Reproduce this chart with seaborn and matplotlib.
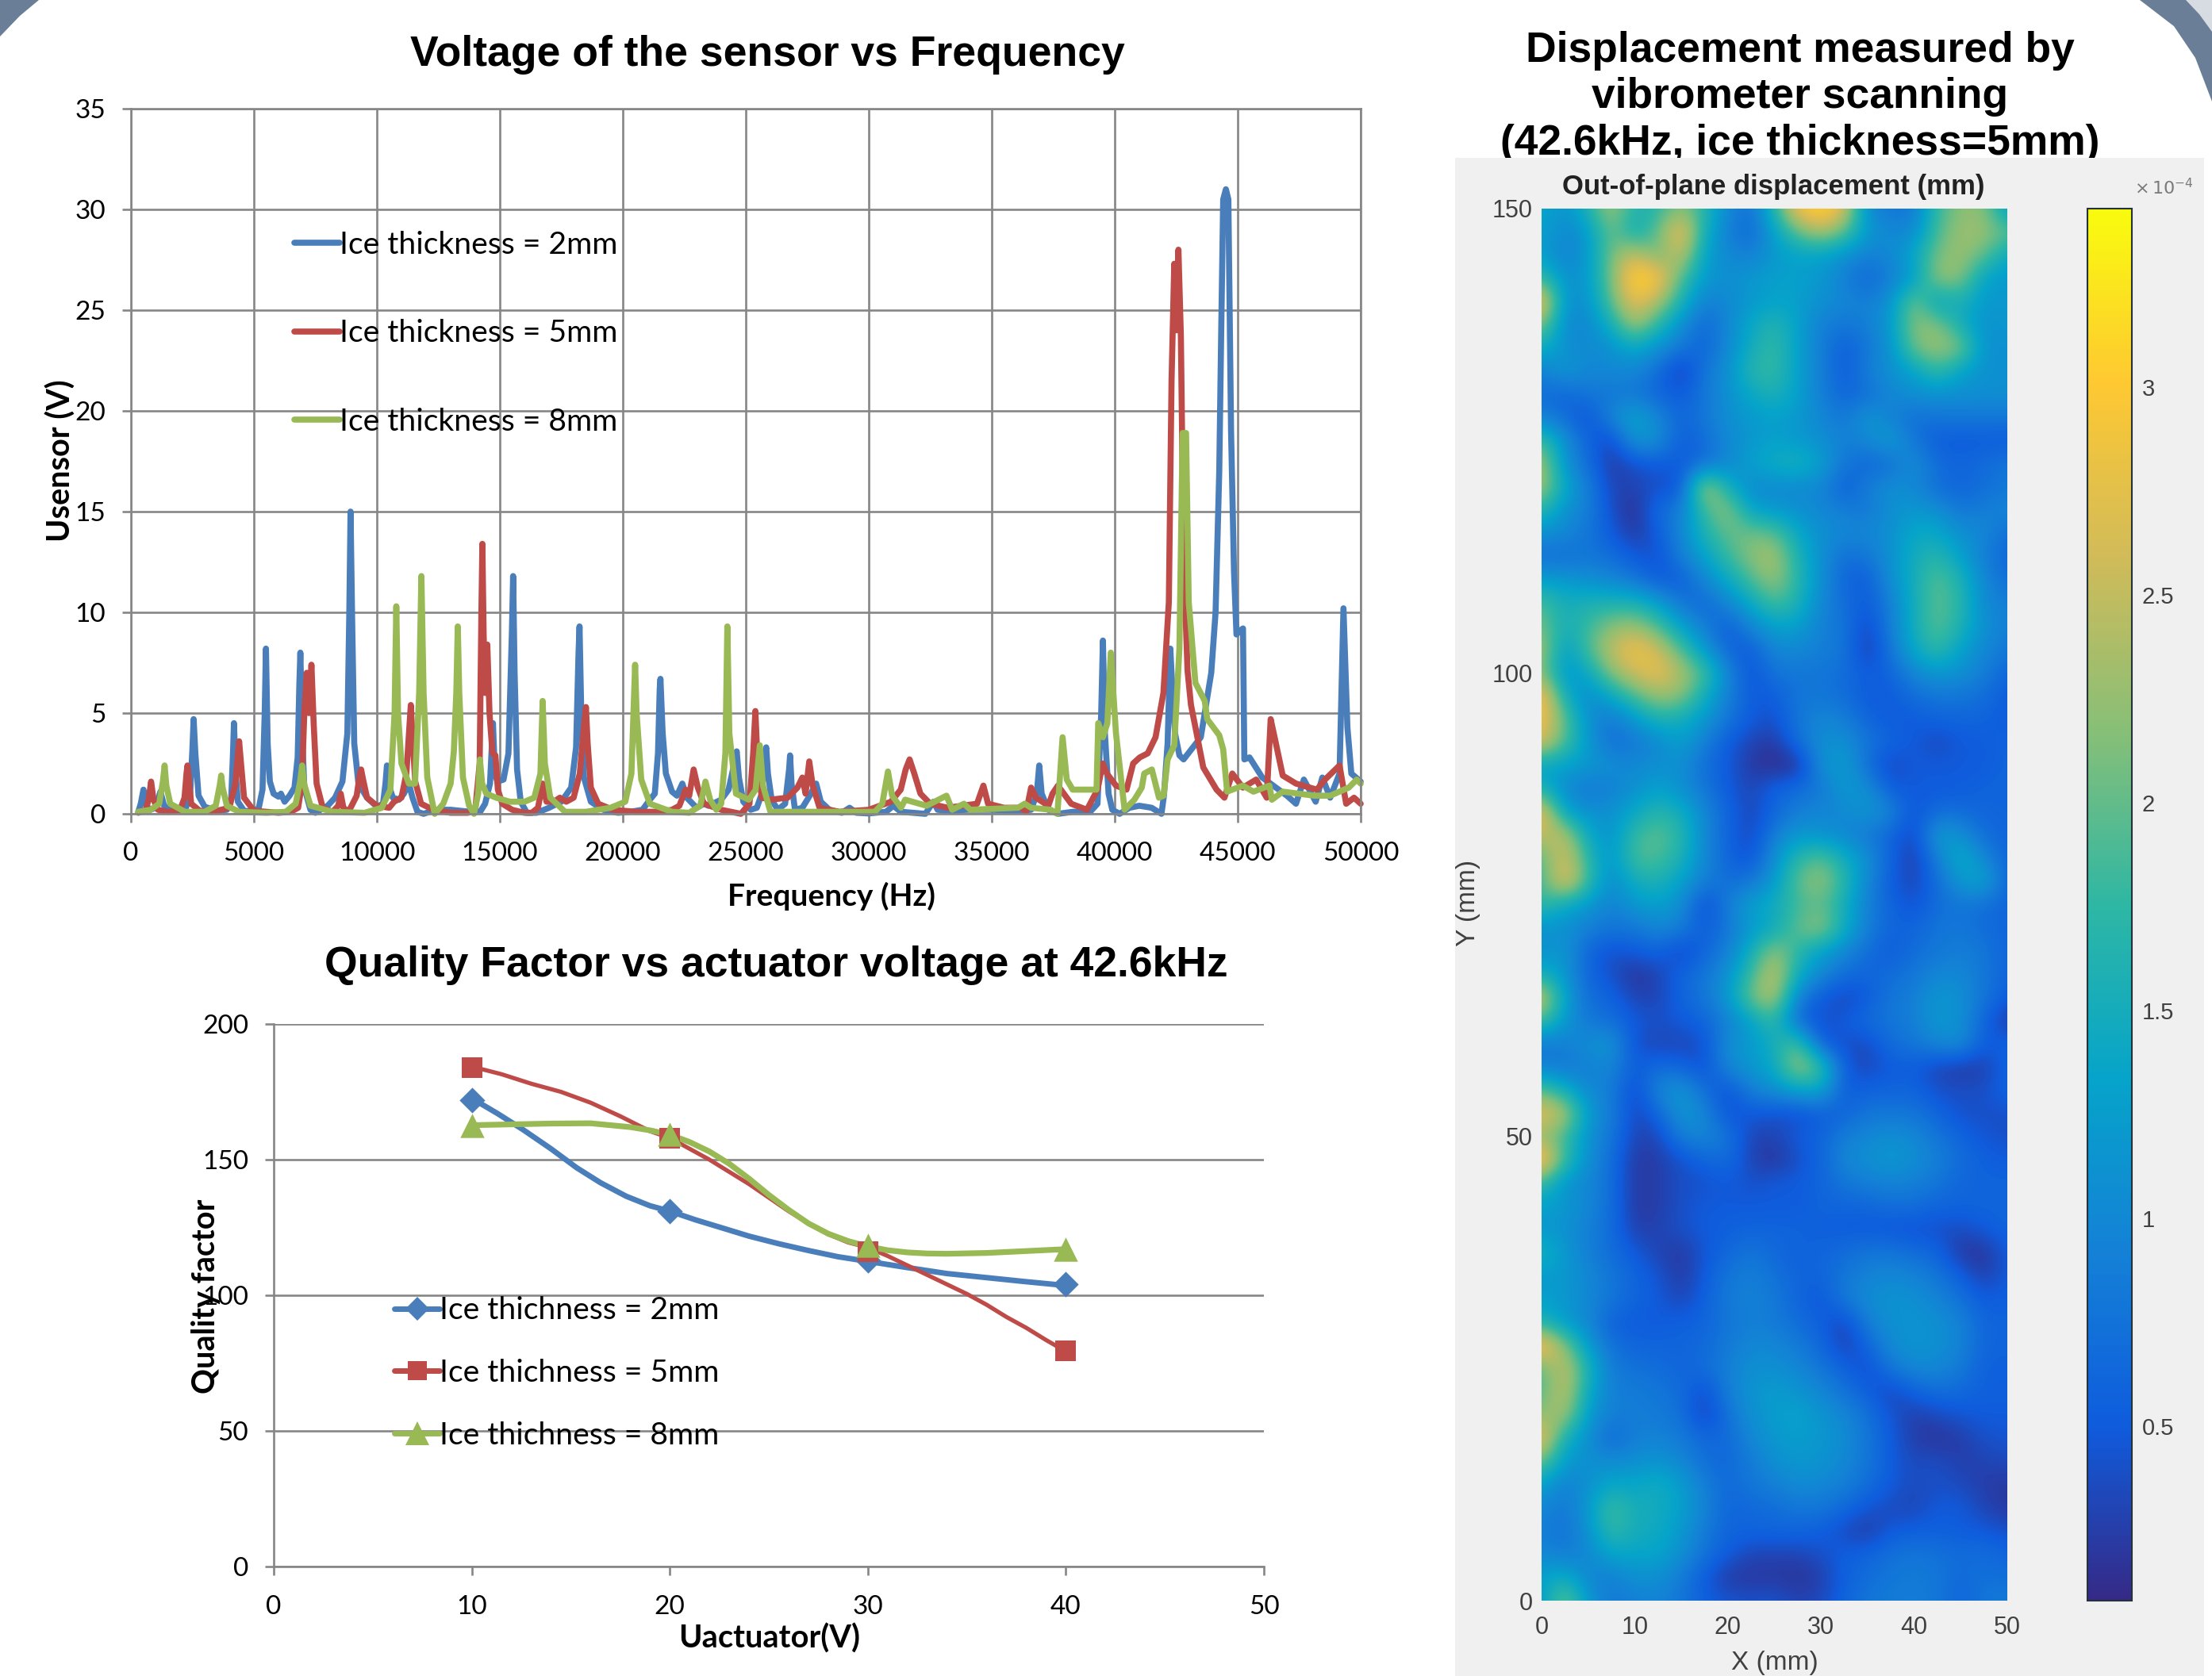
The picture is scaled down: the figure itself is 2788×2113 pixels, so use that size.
import numpy as np
import seaborn as sns
import matplotlib.pyplot as plt
from matplotlib.lines import Line2D
from matplotlib.patches import Polygon, Rectangle

# ==========================
# DATA - sensor voltage vs frequency
# ==========================

freq_2mm = [300, 400, 510, 620, 800, 1000, 1200, 1350, 1700, 2200, 2400, 2500, 2550, 2620, 2750, 3000, 3500, 3900,
            4080, 4150, 4190, 4260, 4350, 4600, 5000, 5200, 5350, 5440, 5490, 5560, 5650, 5800, 6000, 6100, 6250,
            6450, 6650, 6780, 6850, 6890, 6960, 7050, 7300, 7500, 8000, 8300, 8600, 8800, 8880, 8930, 8990, 9080,
            9250, 9600, 10000, 10250, 10350, 10410, 10490, 10650, 10900, 11100, 11300, 11450, 11650, 11900, 12400,
            13000, 13800, 14200, 14400, 14600, 14720, 14800, 14900, 15150, 15350, 15490, 15540, 15600, 15700, 15850,
            16100, 16500, 17000, 17500, 17900, 18100, 18200, 18240, 18310, 18420, 18700, 19200, 19800, 20300, 20800,
            21100, 21300, 21430, 21500, 21530, 21620, 21750, 22000, 22200, 22420, 22600, 23000, 23300, 23480, 24000,
            24300, 24550, 24630, 24720, 24900, 25200, 25450, 25650, 25780, 25830, 25900, 26050, 26300, 26600, 26760,
            26800, 26860, 27000, 27300, 27600, 27860, 28050, 28400, 28900, 29220, 29500, 30000, 30700, 31000, 31300,
            31800, 32300, 32630, 32800, 33300, 34000, 35000, 36000, 36600, 36830, 36930, 37030, 37300, 37700, 38300,
            39000, 39300, 39450, 39520, 39600, 39750, 39900, 40200, 40600, 41000, 41500, 41900, 42000, 42150, 42260,
            42350, 42450, 42630, 42800, 43500, 43925, 44100, 44250, 44330, 44410, 44520, 44620, 44730, 44850, 44950,
            45100, 45215, 45270, 45480, 46000, 47000, 47370, 47690, 48170, 48440, 48760, 49140, 49300, 49460, 49620,
            50000]
volt_2mm = [0.1, 0.5, 1.2, 0.4, 0.2, 0.3, 1.1, 0.4, 0.15, 0.2, 0.8, 3.2, 4.7, 3, 0.9, 0.35, 0.15, 0.2,
            0.8, 3, 4.5, 2, 0.6, 0.15, 0.1, 0.3, 1.2, 5, 8.2, 3.5, 1.6, 1.0, 0.85, 1.0, 0.6,
            0.9, 1.3, 2.8, 6.5, 8, 4, 1.3, 0.2, 0.05, 0.4, 0.8, 1.6, 4, 10, 15, 10, 3.5,
            1.5, 0.8, 0.35, 0.5, 1.5, 2.4, 1.4, 0.8, 0.7, 1, 1.5, 0.8, 0.1, 0, 0.2,
            0.2, 0.1, 0.1, 0.5, 1.5, 4.5, 2, 1.6, 1.7, 3, 9, 11.8, 7, 2.2, 0.6,
            0.05, 0.05, 0.3, 0.6, 1.3, 3.3, 8, 9.3, 5, 1.8, 0.6, 0.2, 0.05, 0.1, 0.2,
            0.7, 1.0, 3, 6.2, 6.7, 4, 2, 1.1, 0.9, 1.5, 0.8, 0.3, 0.5, 0.4, 0.7,
            1.2, 2.6, 3.1, 1.8, 0.6, 0.2, 0.3, 1, 3, 3.3, 2, 0.7, 0.2, 0.5, 2.2,
            2.9, 1.5, 0.2, 0.3, 0.9, 1.5, 0.6, 0.2, 0.05, 0.3, 0.05, 0.02, 0.1, 0.4, 0.1,
            0.05, 0, 0.6, 0.2, 0.15, 0.2, 0.2, 0.15, 0.2, 1, 2.4, 1, 0.2, 0, 0.1,
            0.1, 0.5, 5, 8.6, 4, 1, 0.2, 0, 0.3, 0.4, 0.3, 0, 0.9, 3.5, 8.2,
            6, 4, 2.9, 2.7, 3.8, 7, 10, 17, 24, 30.5, 31, 30.5, 19, 12, 8.9,
            9.1, 9.2, 2.7, 2.8, 1.8, 0.9, 0.5, 1.7, 0.6, 1.8, 0.8, 2, 10.2, 4.3, 2,
            1.6]

freq_5mm = [300, 600, 720, 820, 920, 1100, 1500, 2000, 2180, 2260, 2300, 2350, 2450, 2800, 3300, 3670, 4000, 4250,
            4350, 4400, 4470, 4600, 5000, 6000, 6500, 6800, 6950, 7050, 7150, 7240, 7340, 7430, 7550, 7800, 8200,
            8430, 8530, 8640, 8850, 9180, 9300, 9360, 9440, 9600, 10000, 10500, 10700, 11000, 11200, 11330, 11380,
            11440, 11560, 11800, 12300, 13000, 13700, 14000, 14180, 14250, 14290, 14340, 14400, 14490, 14580, 14700,
            14820, 14920, 15100, 15500, 16000, 16300, 16550, 16740, 16900, 17200, 17440, 17700, 18000, 18250, 18440,
            18500, 18570, 18700, 19000, 19600, 20500, 21500, 22000, 22300, 22550, 22700, 22880, 23050, 23300, 24000,
            24800, 25150, 25300, 25390, 25480, 25650, 26000, 26700, 27100, 27300, 27430, 27580, 27720, 28000, 28800,
            30000, 30900, 31300, 31500, 31660, 31850, 32100, 32500, 33200, 33800, 34400, 34660, 34850, 35500, 36200,
            36400, 36600, 36800, 37300, 37470, 37690, 38230, 38870, 39300, 39515, 39680, 40050, 40480, 40750, 41020,
            41340, 41660, 41980, 42200, 42310, 42420, 42500, 42590, 42690, 42800, 42960, 43100, 43280, 43600, 44140, 44460,
            44780, 45210, 45750, 46180, 46340, 46500, 46830, 47370, 48220, 48550, 49140, 49410, 49730, 50000]
volt_5mm = [0.05, 0.2, 0.7, 1.6, 0.7, 0.2, 0.1, 0.2, 0.8, 2.0, 2.4, 1.8, 0.5, 0.15, 0.1, 0.2, 0.3, 1.5,
            3.0, 3.6, 2.6, 0.8, 0.15, 0.05, 0.1, 0.3, 1.5, 5, 7.0, 5, 7.4, 4.5, 1.5, 0.3, 0.1,
            0.4, 1.0, 0.3, 0.1, 0.9, 1.9, 2.2, 1.7, 0.8, 0.4, 0.3, 0.6, 0.8, 2, 4.5, 5.4,
            4, 1.6, 0.5, 0.2, 0.05, 0.05, 0.2, 2.5, 10, 13.4, 9, 6, 8.4, 5, 3,
            2.9, 1.2, 0.5, 0.2, 0.05, 0.05, 0.3, 1.5, 0.6, 0.6, 0.8, 0.6, 0.8, 2, 4.6,
            5.3, 3.5, 1.3, 0.5, 0.2, 0.1, 0.1, 0.2, 0.4, 1.2, 0.9, 2.2, 1.3, 0.5, 0.2,
            0, 0.5, 3, 5.1, 2.5, 0.8, 0.7, 0.8, 1.3, 1.8, 1.0, 2.6, 1.4, 0.3, 0.1,
            0.2, 0.6, 1.2, 2.2, 2.7, 2.0, 1.0, 0.5, 0.3, 0.4, 0.5, 1.4, 0.5, 0.3, 0.3,
            0.1, 1.3, 0.8, 0.4, 1.0, 1.4, 0.5, 0.2, 1.2, 2.5, 2.0, 1.4, 1.2, 2.5, 2.8,
            3.0, 3.8, 6.0, 10.5, 21.5, 27.3, 24, 28, 23.7, 12.7, 7.1, 5.4, 4.3, 2.3, 1.2, 0.8,
            2.0, 1.3, 1.7, 0.8, 4.7, 3.8, 1.9, 1.5, 1.2, 1.7, 2.4, 0.5, 0.8, 0.5]

freq_8mm = [300, 800, 1150, 1300, 1370, 1440, 1600, 2200, 3000, 3450, 3610, 3670, 3730, 3900, 4400, 5500, 6300, 6700,
            6880, 6960, 7040, 7300, 8200, 9500, 10200, 10550, 10720, 10790, 10860, 11000, 11300, 11550, 11720, 11810,
            11900, 12050, 12350, 12700, 13000, 13130, 13230, 13290, 13350, 13500, 13750, 13950, 14120, 14190, 14280,
            14450, 14850, 15400, 16000, 16400, 16650, 16740, 16830, 17050, 17650, 18500, 19500, 20100, 20350, 20460,
            20500, 20560, 20750, 21100, 22000, 22700, 23150, 23360, 23550, 23800, 24000, 24170, 24250, 24330, 24600,
            25120, 25400, 25570, 25700, 26000, 28000, 30250, 30550, 30780, 30950, 31310, 31480, 32350, 33160, 33390,
            33870, 34130, 36070, 36340, 36600, 37400, 37670, 37880, 38050, 38290, 39260, 39330, 39520, 39700, 39840,
            40050, 40400, 40800, 41100, 41200, 41510, 41800, 41990, 42150, 42420, 42630, 42760, 42900, 43010, 43280,
            43660, 43760, 44250, 44410, 44570, 45210, 45640, 46290, 46390, 46830, 48110, 48760, 49515, 49840, 50000]
volt_8mm = [0.1, 0.2, 0.5, 1.6, 2.4, 1.4, 0.5, 0.1, 0.1, 0.4, 1.4, 1.9, 1.3, 0.4, 0.1, 0.05, 0.1, 0.5,
            1.6, 2.4, 1.5, 0.4, 0.1, 0.05, 0.3, 1.2, 5, 10.3, 5, 2.5, 1.5, 1.5, 6, 11.8,
            6, 1.8, 0, 0.5, 1.5, 3.1, 6, 9.3, 6, 1.8, 0.4, 0, 1, 2.7, 1.5,
            1.0, 0.8, 0.6, 0.6, 0.8, 2, 5.6, 2.5, 0.8, 0.1, 0.1, 0.3, 0.6, 2, 6,
            7.4, 5, 1.7, 0.5, 0.1, 0.05, 0.4, 1.6, 0.7, 0.2, 0.5, 3, 9.3, 4, 1.0,
            0.7, 1.2, 3.4, 1.4, 0.1, 0.1, 0.1, 0.5, 2.1, 0.9, 0.3, 0.7, 0.4, 0.9, 0.2,
            0.5, 0.2, 0.3, 0.5, 0.3, 0.2, 0, 3.8, 1.7, 1.2, 1.2, 4.5, 3.8, 4.5, 8,
            4, 0.2, 0.7, 1.3, 2, 2.2, 0.8, 0.9, 2.7, 3.4, 8.2, 18.9, 18.9, 10.5, 6.5,
            5.6, 4.7, 3.9, 3.2, 1.1, 1.4, 1.1, 1.4, 0.7, 1.1, 0.9, 0.9, 1.3, 1.7, 1.5]

thickness_labels = ["Ice thickness = 2mm", "Ice thickness = 5mm", "Ice thickness = 8mm"]

# ==========================
# DATA - quality factor
# ==========================

actuator_v = [10, 20, 30, 40]
q_2mm = [172, 131, 113, 104]
q_5mm = [184, 158, 116, 79.5]
q_8mm = [162.5, 159.5, 118.5, 117]

# the smoothed excel curves
curve_2mm_x = [10, 11.3, 12.6, 14, 15.3, 16.5, 17.8, 19, 20, 21.3, 22.7, 24, 25.5, 27, 28.5, 30, 32, 34, 36, 38, 40]
curve_2mm_y = [172.6, 167, 161, 154, 147, 141.5, 136.5, 133, 131, 127.8, 124.7, 121.8, 119, 116.5, 114.2, 112.5,
               110.2, 108, 106.5, 105, 103.6]
curve_5mm_x = [10, 11.5, 13, 14.5, 16, 17.5, 19, 20, 21, 22, 23, 24, 25, 26, 27, 28, 29, 30, 31, 32, 33, 34, 35, 36,
               37, 38, 39, 40]
curve_5mm_y = [184.3, 181.5, 178, 175, 171, 166, 160.5, 158, 154, 150, 145.5, 141, 136, 131, 126.5, 122.5, 119.5,
               117.6, 114.5, 111, 107.5, 104, 100.5, 96.5, 92, 88, 83.5, 79.3]
curve_8mm_x = [10, 12, 14, 16, 18, 19, 20, 21, 22, 23, 24, 25, 26, 27, 28, 29, 30, 31, 32, 33, 34, 36, 38, 40]
curve_8mm_y = [162.7, 163, 163.3, 163.4, 162, 160.8, 159.2, 156.5, 153, 148.5, 143, 137, 131.5, 126.5, 122.7, 120,
               118, 116.6, 115.8, 115.4, 115.3, 115.6, 116.3, 117]

quality_labels = ["Ice thichness = 2mm", "Ice thichness = 5mm", "Ice thichness = 8mm"]

# ==========================
# DATA - displacement map (x 0..50, y 150..0, every 2.5 mm), unit 1e-4 mm
# ==========================

map_x_ticks = [0, 10, 20, 30, 40, 50]
map_y_ticks = [0, 50, 100, 150]
displacement = [
    [1.4, 1.1, 1.6, 2.4, 1.6, 1.7, 2.2, 1.7, 1.0, 0.7, 1.7, 2.9, 3.2, 2.7, 1.0, 0.8, 0.8, 1.8, 2.2, 2.2, 1.2],
    [1.3, 1.0, 1.2, 2.1, 1.4, 2.0, 3.0, 1.5, 0.9, 0.6, 1.3, 2.0, 2.4, 2.0, 1.2, 1.0, 1.0, 1.9, 2.3, 2.3, 2.0],
    [1.3, 0.9, 1.2, 2.1, 2.6, 2.0, 2.6, 1.3, 1.0, 0.9, 1.2, 1.3, 1.3, 1.1, 0.9, 1.0, 1.4, 2.1, 2.3, 2.0, 1.4],
    [1.8, 1.1, 1.2, 2.1, 3.2, 3.0, 1.9, 1.2, 1.1, 1.2, 1.3, 1.3, 1.2, 0.9, 0.6, 0.9, 1.2, 2.3, 2.2, 1.3, 1.2],
    [3.0, 1.1, 1.1, 2.0, 2.8, 2.4, 1.6, 0.9, 1.0, 1.2, 1.3, 1.3, 1.1, 1.0, 0.9, 1.1, 2.2, 1.2, 1.6, 1.2, 1.2],
    [2.2, 1.0, 1.0, 1.5, 2.4, 1.7, 1.1, 0.6, 1.0, 1.4, 1.7, 1.3, 0.9, 0.8, 0.9, 1.2, 2.2, 2.2, 1.5, 1.1, 1.2],
    [1.5, 1.1, 1.0, 1.1, 1.4, 1.1, 0.8, 0.6, 1.0, 1.5, 1.8, 1.3, 0.9, 0.5, 0.8, 1.1, 2.1, 2.3, 2.2, 1.1, 1.1],
    [0.9, 1.2, 1.0, 1.0, 1.0, 0.7, 0.2, 0.8, 1.1, 1.7, 1.8, 1.3, 0.9, 0.5, 0.9, 1.1, 1.3, 1.8, 1.3, 1.1, 1.1],
    [0.7, 0.6, 0.8, 0.8, 0.8, 0.6, 0.5, 0.8, 1.1, 1.4, 1.6, 1.3, 0.9, 0.6, 0.7, 1.0, 1.1, 1.1, 1.1, 1.1, 1.1],
    [0.9, 0.7, 0.4, 1.0, 1.4, 1.0, 0.6, 0.8, 1.1, 1.2, 1.3, 1.2, 1.0, 0.8, 1.2, 0.9, 0.7, 0.8, 0.8, 0.8, 0.8],
    [1.9, 1.1, 0.6, 0.3, 1.2, 1.1, 0.5, 0.7, 1.0, 1.2, 1.3, 1.2, 1.1, 0.9, 1.0, 1.3, 0.8, 0.5, 0.5, 0.5, 0.5],
    [2.4, 1.1, 0.7, 0.2, 0.4, 0.5, 0.5, 0.7, 1.0, 1.3, 1.5, 1.6, 1.3, 0.8, 0.6, 0.7, 1.1, 0.7, 0.6, 0.7, 0.8],
    [2.4, 1.4, 0.9, 0.3, 0.3, 0.4, 0.4, 2.6, 1.5, 1.0, 1.0, 1.0, 1.0, 0.5, 0.9, 1.1, 1.0, 0.7, 0.6, 0.7, 0.8],
    [1.7, 1.1, 0.9, 0.4, 0.1, 0.7, 0.9, 1.8, 2.3, 1.3, 1.2, 1.1, 1.0, 0.9, 0.8, 1.1, 1.2, 1.1, 0.8, 0.9, 1.0],
    [1.1, 1.0, 0.8, 0.5, 0.2, 0.5, 1.0, 1.6, 2.0, 2.1, 2.0, 1.4, 1.1, 1.0, 1.0, 1.1, 1.4, 1.4, 1.1, 1.0, 0.7],
    [0.7, 0.7, 0.8, 0.7, 0.5, 0.4, 0.9, 1.3, 1.8, 2.2, 2.4, 1.6, 1.1, 0.7, 0.8, 1.1, 1.5, 1.7, 1.3, 0.9, 0.6],
    [1.3, 1.2, 1.1, 1.0, 0.8, 0.5, 0.5, 1.0, 1.4, 1.9, 2.3, 1.7, 1.1, 0.6, 0.5, 1.1, 1.5, 2.0, 1.6, 1.0, 0.7],
    [1.9, 1.5, 1.6, 1.6, 1.6, 1.3, 0.8, 0.6, 1.0, 1.4, 1.9, 1.6, 1.0, 0.7, 0.5, 0.9, 1.5, 2.0, 1.7, 1.0, 0.9],
    [2.1, 1.5, 1.8, 2.2, 2.3, 1.9, 1.3, 0.9, 0.5, 1.0, 1.3, 1.3, 0.9, 0.8, 0.3, 0.9, 1.5, 2.0, 1.6, 1.1, 0.9],
    [2.4, 1.2, 1.9, 2.5, 2.9, 2.6, 1.9, 1.2, 0.6, 0.5, 1.0, 1.0, 0.9, 0.8, 0.2, 0.8, 1.4, 1.8, 1.3, 1.0, 0.8],
    [2.2, 1.1, 1.4, 2.2, 2.6, 2.8, 2.4, 1.9, 1.0, 0.4, 0.8, 0.8, 0.8, 0.7, 0.5, 0.6, 1.0, 1.2, 1.1, 0.9, 0.6],
    [3.0, 1.5, 1.0, 1.4, 1.9, 2.3, 2.2, 1.5, 0.9, 0.5, 0.5, 0.8, 0.8, 0.7, 0.5, 0.5, 0.7, 0.8, 0.8, 0.7, 0.5],
    [2.9, 2.0, 1.1, 0.8, 1.2, 1.6, 1.5, 1.2, 0.8, 0.5, 0.4, 0.8, 1.0, 0.9, 0.6, 0.5, 0.5, 0.6, 0.6, 0.6, 0.5],
    [2.7, 1.9, 1.2, 0.7, 0.8, 1.0, 1.3, 0.9, 0.5, 0.3, 0.2, 0.7, 1.1, 1.1, 0.8, 0.6, 0.5, 0.3, 0.5, 0.5, 0.6],
    [1.3, 1.3, 1.2, 1.1, 1.0, 1.1, 1.1, 0.7, 0.5, 0.2, 0.1, 0.1, 1.1, 1.3, 0.7, 0.3, 0.5, 0.5, 0.5, 0.5, 0.6],
    [1.6, 1.0, 0.8, 0.9, 1.1, 1.3, 1.1, 0.8, 0.5, 0.3, 0.6, 0.7, 0.8, 1.2, 1.1, 0.5, 0.5, 0.5, 0.5, 0.6, 0.6],
    [2.9, 1.3, 1.1, 1.1, 1.4, 1.7, 1.5, 1.0, 0.6, 0.3, 0.6, 0.9, 1.0, 1.0, 1.2, 1.0, 0.4, 0.7, 0.7, 0.6, 0.6],
    [2.5, 2.5, 1.4, 1.1, 1.8, 2.0, 1.7, 1.0, 0.6, 0.3, 0.9, 1.2, 1.1, 1.0, 0.8, 0.6, 0.3, 1.3, 1.1, 0.7, 0.6],
    [1.9, 2.7, 1.7, 1.1, 1.9, 1.9, 1.6, 1.0, 0.6, 0.4, 1.1, 1.7, 2.0, 1.5, 1.1, 0.6, 0.2, 0.9, 1.5, 1.0, 0.6],
    [1.8, 2.9, 1.8, 1.0, 1.5, 1.6, 1.3, 0.9, 0.7, 0.8, 1.2, 2.0, 2.3, 1.7, 1.0, 0.5, 0.3, 0.7, 1.2, 1.4, 0.6],
    [1.8, 1.4, 1.2, 0.9, 1.2, 1.3, 1.1, 0.3, 0.9, 1.3, 1.5, 1.8, 2.0, 1.5, 0.9, 0.6, 0.4, 0.7, 0.8, 0.7, 0.6],
    [1.1, 1.1, 0.9, 0.8, 0.8, 1.0, 0.9, 0.5, 0.8, 1.2, 1.4, 2.0, 2.3, 1.5, 0.9, 0.6, 0.6, 0.8, 0.8, 0.7, 0.6],
    [1.1, 1.2, 0.6, 0.4, 0.5, 0.6, 0.3, 0.6, 0.9, 1.5, 2.3, 1.7, 1.3, 1.0, 0.7, 0.5, 0.7, 0.8, 0.9, 0.8, 0.6],
    [1.5, 1.2, 0.6, 0.4, 0.15, 0.3, 0.6, 0.8, 1.1, 1.8, 2.6, 1.5, 1.0, 0.7, 0.6, 0.7, 0.8, 1.0, 1.0, 0.8, 0.6],
    [2.7, 1.3, 0.7, 0.6, 0.3, 0.3, 0.6, 0.8, 1.2, 2.1, 2.5, 0.9, 0.5, 0.3, 0.5, 0.8, 0.9, 1.2, 1.1, 0.8, 0.5],
    [1.9, 1.2, 0.8, 0.7, 0.5, 0.4, 0.5, 0.6, 0.9, 1.3, 1.8, 0.6, 0.4, 0.5, 0.7, 0.8, 0.9, 1.2, 1.1, 0.6, 0.2],
    [0.8, 0.9, 1.1, 1.2, 0.4, 0.3, 0.3, 0.4, 1.1, 1.2, 1.5, 2.0, 0.5, 0.4, 0.35, 0.7, 0.8, 1.0, 1.1, 0.5, 0.6],
    [0.9, 0.8, 0.9, 1.0, 0.5, 0.7, 0.6, 0.4, 1.0, 1.2, 1.4, 2.4, 1.9, 0.5, 0.3, 0.5, 0.5, 0.3, 0.2, 0.25, 0.6],
    [2.0, 1.5, 1.0, 0.9, 0.3, 1.0, 1.2, 0.7, 0.4, 0.9, 1.1, 1.3, 1.4, 0.5, 0.6, 0.6, 0.6, 0.4, 0.4, 0.4, 0.6],
    [2.8, 2.5, 1.2, 0.9, 0.3, 0.6, 1.2, 1.0, 0.4, 0.5, 0.4, 0.4, 0.5, 0.6, 0.8, 0.8, 0.8, 0.6, 0.4, 0.4, 0.4],
    [2.2, 1.8, 1.1, 0.8, 0.3, 0.3, 0.9, 1.0, 0.8, 0.3, 0.3, 0.5, 0.6, 0.9, 1.0, 1.1, 1.0, 0.8, 0.6, 0.45, 0.4],
    [3.2, 1.8, 1.1, 0.7, 0.2, 0.25, 0.4, 0.6, 0.7, 0.3, 0.15, 0.4, 0.6, 1.0, 1.1, 1.2, 1.1, 0.9, 0.7, 0.55, 0.5],
    [1.8, 1.1, 1.0, 0.7, 0.2, 0.25, 0.4, 0.4, 0.5, 0.4, 0.5, 0.5, 0.6, 0.8, 0.9, 0.95, 0.9, 0.8, 0.6, 0.6, 0.6],
    [1.3, 1.2, 1.0, 0.7, 0.2, 0.25, 0.4, 0.5, 0.5, 0.5, 0.5, 0.5, 0.6, 0.6, 0.6, 0.7, 0.7, 0.6, 0.6, 0.6, 0.6],
    [1.2, 1.1, 0.9, 0.7, 0.25, 0.3, 0.4, 0.5, 0.55, 0.6, 0.6, 0.6, 0.55, 0.5, 0.5, 0.45, 0.4, 0.4, 0.35, 0.5, 0.6],
    [1.6, 1.2, 0.9, 0.7, 0.5, 0.3, 0.2, 0.45, 0.65, 0.8, 0.65, 0.55, 0.6, 0.7, 0.8, 0.8, 0.7, 0.6, 0.2, 0.15, 0.5],
    [1.2, 1.2, 1.0, 0.8, 0.6, 0.45, 0.2, 0.5, 0.8, 0.9, 0.75, 0.6, 0.6, 0.8, 0.95, 1.0, 0.95, 0.8, 0.55, 0.25, 0.5],
    [1.3, 1.2, 1.0, 0.8, 0.6, 0.5, 0.3, 0.55, 0.85, 0.95, 0.85, 0.6, 0.45, 0.85, 1.05, 1.15, 1.1, 0.95, 0.75, 0.5, 0.55],
    [1.6, 1.2, 1.0, 0.55, 0.5, 0.5, 0.55, 0.6, 0.8, 0.9, 0.85, 0.7, 0.55, 0.3, 0.9, 1.1, 1.15, 1.1, 0.95, 0.6, 0.6],
    [3.1, 2.2, 1.2, 0.75, 0.6, 0.6, 0.6, 0.65, 0.85, 1.0, 1.0, 0.85, 0.65, 0.25, 0.6, 1.05, 1.15, 1.1, 0.95, 0.6, 0.6],
    [1.9, 2.6, 1.6, 0.85, 0.75, 0.7, 0.6, 0.7, 0.9, 1.1, 1.1, 1.0, 0.8, 0.6, 0.35, 0.8, 1.0, 1.0, 0.85, 0.55, 0.55],
    [1.9, 2.6, 1.4, 0.9, 0.85, 0.8, 0.7, 0.35, 0.9, 1.15, 1.25, 1.15, 1.0, 0.75, 0.55, 0.3, 0.55, 0.7, 0.65, 0.55, 0.55],
    [2.2, 2.4, 1.2, 0.9, 0.9, 0.85, 0.75, 0.25, 0.75, 1.1, 1.25, 1.35, 1.15, 1.0, 0.75, 0.45, 0.25, 0.35, 0.45, 0.5, 0.5],
    [2.9, 1.5, 1.1, 0.6, 0.9, 0.95, 0.85, 0.65, 0.65, 1.0, 1.2, 1.25, 1.2, 1.05, 0.8, 0.5, 0.25, 0.15, 0.25, 0.4, 0.45],
    [2.1, 1.2, 1.1, 1.05, 1.1, 1.15, 1.0, 0.7, 0.65, 0.85, 1.1, 1.2, 1.15, 1.0, 0.8, 0.5, 0.35, 0.4, 0.25, 0.3, 0.35],
    [1.3, 0.9, 1.1, 1.4, 1.35, 1.5, 1.25, 0.9, 0.65, 0.8, 0.9, 1.05, 1.0, 0.9, 0.7, 0.5, 0.35, 0.4, 0.35, 0.25, 0.2],
    [1.0, 0.8, 1.2, 1.9, 1.5, 1.5, 1.3, 0.95, 0.6, 0.65, 0.7, 0.8, 0.8, 0.65, 0.45, 0.35, 0.3, 0.5, 0.5, 0.3, 0.2],
    [0.9, 0.75, 1.1, 1.8, 1.5, 1.45, 1.2, 0.85, 0.6, 0.6, 0.6, 0.6, 0.55, 0.35, 0.2, 0.5, 0.55, 0.55, 0.5, 0.5, 0.4],
    [1.0, 0.85, 1.0, 1.35, 1.35, 1.35, 1.1, 0.75, 0.5, 0.3, 0.3, 0.3, 0.4, 0.55, 0.6, 0.75, 0.8, 0.75, 0.7, 0.7, 0.6],
    [1.3, 1.5, 0.95, 0.9, 1.1, 1.1, 0.85, 0.5, 0.2, 0.2, 0.2, 0.15, 0.25, 0.55, 0.7, 0.8, 0.85, 0.8, 0.65, 0.75, 0.7],
    [1.2, 2.2, 1.2, 0.8, 0.9, 0.95, 0.8, 0.55, 0.45, 0.4, 0.45, 0.3, 0.35, 0.6, 0.8, 0.85, 0.9, 0.8, 0.6, 0.8, 0.85],
]

# ==========================
# SETTINGS
# ==========================

W, H = 2788, 2113
BLUE, RED, GREEN = "#4a7ebb", "#be4b48", "#98b954"
GRID = "#868686"
PANEL = "#f0f0f0"
MAP_TEXT = "#404040"
TITLE_FONT = "Liberation Sans"
CHART_FONT = "Lato"

sns.set_style("white")
plt.rcParams['font.family'] = [CHART_FONT, 'DejaVu Sans']
plt.rcParams['text.color'] = "black"

fig = plt.figure(figsize=(W / 100, H / 100), dpi=100)
fig.patch.set_facecolor("white")


def px_axes(left, top, right, bottom, **kwargs):
    return fig.add_axes([left / W, 1 - bottom / H, (right - left) / W, (bottom - top) / H], **kwargs)


def px_text(x, y, s, **kwargs):
    kwargs.setdefault("ha", "center")
    kwargs.setdefault("va", "center")
    return fig.text(x / W, 1 - y / H, s, **kwargs)


def corner(points, color):
    pts = [(x / W, 1 - y / H) for x, y in points]
    fig.add_artist(Polygon(pts, closed=True, transform=fig.transFigure, fc=color, ec="none"))


# slide decoration in the corners
corner([(0, 0), (49, 0), (25, 20), (0, 46)], "#6a7f97")
corner([(2697, 0), (2740, 33), (2767, 73), (2788, 128), (2788, 0)], "#6a7f97")
corner([(2755, 0), (2772, 18), (2788, 40), (2788, 0)], "#d7dce3")

# ==========================
# VOLTAGE VS FREQUENCY
# ==========================

ax1 = px_axes(165, 137, 1715, 1026)
sns.lineplot(x=freq_2mm, y=volt_2mm, color=BLUE, lw=5.5, ax=ax1, label=thickness_labels[0], errorbar=None, sort=False)
sns.lineplot(x=freq_5mm, y=volt_5mm, color=RED, lw=5.5, ax=ax1, label=thickness_labels[1], errorbar=None, sort=False)
sns.lineplot(x=freq_8mm, y=volt_8mm, color=GREEN, lw=5.5, ax=ax1, label=thickness_labels[2], errorbar=None, sort=False)
for line in ax1.get_lines():
    line.set_clip_on(False)
    line.set_solid_capstyle("round")
    line.set_solid_joinstyle("round")

ax1.set_xlim(0, 50000)
ax1.set_ylim(0, 35)
ax1.set_xticks(np.arange(0, 50001, 5000))
ax1.set_yticks(np.arange(0, 36, 5))
ax1.grid(True, color=GRID, lw=1.9)
ax1.set_axisbelow(True)
for s in ax1.spines.values():
    s.set_color(GRID)
    s.set_linewidth(1.9)
ax1.tick_params(axis="both", length=8, width=1.9, color=GRID, labelsize=24, labelcolor="black", bottom=True, left=True)
ax1.tick_params(axis="x", pad=17)
ax1.tick_params(axis="y", pad=15)
ax1.set_xlabel("")
ax1.set_ylabel("")
ax1.legend(loc="upper left", bbox_to_anchor=(0.1328, 0.827), frameon=False, fontsize=28.2, handlelength=1.45,
           handletextpad=0.0, labelspacing=1.93, borderpad=0, borderaxespad=0)

px_text(1048, 1130, "Frequency (Hz)", fontsize=28, fontweight="bold")
px_text(77, 581, "Usensor (V)", fontsize=28.5, fontweight="bold", rotation=90)
px_text(967, 69, "Voltage of the sensor vs Frequency", fontsize=38.5, fontweight="bold", family=TITLE_FONT)

# ==========================
# QUALITY FACTOR
# ==========================

ax2 = px_axes(345, 1291, 1593, 1975)
curves = [(curve_2mm_x, curve_2mm_y, BLUE, 5), (curve_5mm_x, curve_5mm_y, RED, 3.8), (curve_8mm_x, curve_8mm_y, GREEN, 5.2)]
points = [(q_2mm, BLUE, "D", 270), (q_5mm, RED, "s", 330), (q_8mm, GREEN, "^", 480)]
for (cx, cy, col, lw), (q, mcol, mark, size) in zip(curves, points):
    sns.lineplot(x=cx, y=cy, color=col, lw=lw, ax=ax2, errorbar=None, sort=False)
    sns.scatterplot(x=actuator_v, y=q, color=mcol, marker=mark, s=size, ax=ax2, edgecolor=mcol, linewidth=0, zorder=5)

ax2.set_xlim(0, 50)
ax2.set_ylim(0, 200)
ax2.set_xticks(np.arange(0, 51, 10))
ax2.set_yticks(np.arange(0, 201, 50))
ax2.grid(False)
ax2.grid(True, axis="y", color=GRID, lw=1.9)
ax2.set_axisbelow(True)
sns.despine(ax=ax2, top=True, right=True)
for name in ["left", "bottom"]:
    ax2.spines[name].set_color(GRID)
    ax2.spines[name].set_linewidth(1.9)
ax2.tick_params(axis="both", length=8, width=1.9, color=GRID, labelsize=24, labelcolor="black", bottom=True, left=True)
ax2.tick_params(axis="x", pad=18)
ax2.tick_params(axis="y", pad=15)
handles = [Line2D([], [], color=BLUE, lw=5, marker="D", ms=15, mew=0),
           Line2D([], [], color=RED, lw=5, marker="s", ms=17, mew=0),
           Line2D([], [], color=GREEN, lw=5, marker="^", ms=22, mew=0)]
ax2.legend(handles, quality_labels, loc="upper left", bbox_to_anchor=(0.122, 0.498), frameon=False, fontsize=28.2,
           handlelength=1.45, handletextpad=0.0, labelspacing=1.09, borderpad=0, borderaxespad=0)

px_text(970, 2066, "Uactuator(V)", fontsize=28.7, fontweight="bold")
px_text(259, 1634, "Quality factor", fontsize=28.5, fontweight="bold", rotation=90)
px_text(978, 1217, "Quality Factor vs actuator voltage at 42.6kHz", fontsize=38.5, fontweight="bold", family=TITLE_FONT)

# ==========================
# RIGHT PANEL - DISPLACEMENT MAP
# ==========================

for i, line in enumerate(["Displacement measured by", "vibrometer scanning", "(42.6kHz, ice thickness=5mm)"]):
    px_text(2269, [64, 122, 181][i], line, fontsize=38.4, fontweight="bold", family=TITLE_FONT, zorder=1)

fig.add_artist(Rectangle((1834 / W, 0), (2778 - 1834) / W, 1 - 199 / H, transform=fig.transFigure,
                         fc=PANEL, ec="none", zorder=2))

parula = sns.blend_palette(["#352a87", "#0f5cdd", "#1481d6", "#06a4ca", "#2eb7a4",
                            "#87bf77", "#d1bb59", "#fec832", "#f9fb0e"], as_cmap=True)
vmin, vmax = 0.08, 3.43

ax3 = px_axes(1943, 263, 2530, 2018)
ax3.set_zorder(3)
z = np.array(displacement)
# half a cell past the edge, the grid points sit on the cell centres
step_x = 50 / (z.shape[1] - 1) / 2
step_y = 150 / (z.shape[0] - 1) / 2
img = ax3.imshow(z, cmap=parula, vmin=vmin, vmax=vmax, aspect="auto", interpolation="bicubic",
                 interpolation_stage="data", extent=(-step_x, 50 + step_x, -step_y, 150 + step_y))
ax3.set_xlim(0, 50)
ax3.set_ylim(0, 150)
ax3.set_xticks(map_x_ticks)
ax3.set_yticks(map_y_ticks)
ax3.grid(False)
for s in ax3.spines.values():
    s.set_visible(False)
ax3.tick_params(axis="both", length=0, labelsize=22, labelcolor=MAP_TEXT, labelfontfamily="Liberation Sans")
ax3.tick_params(axis="x", pad=14)
ax3.tick_params(axis="y", pad=8)

px_text(2235, 235, "Out-of-plane displacement (mm)", fontsize=25, fontweight="bold", color="#222222",
        family="Liberation Sans", zorder=4)
px_text(1851, 1138, "Y (mm)", fontsize=24, rotation=90, color=MAP_TEXT, family="Liberation Sans", zorder=4)
px_text(2237, 2096, "X (mm)", fontsize=24, color=MAP_TEXT, family="Liberation Sans", zorder=4)

cax = px_axes(2631, 263, 2687, 2018)
cax.set_zorder(3)
cb = fig.colorbar(img, cax=cax, ticks=[0.5, 1, 1.5, 2, 2.5, 3])
cb.ax.set_yticklabels(["0.5", "1", "1.5", "2", "2.5", "3"])
cb.outline.set_edgecolor("#26323a")
cb.outline.set_linewidth(1.5)
cb.ax.tick_params(direction="in", length=14, width=1.5, color="#26323a", labelsize=21, labelcolor=MAP_TEXT, pad=9,
                  right=True, left=False, labelfontfamily="Liberation Sans")
px_text(2727, 237, r"$\times\,10^{-4}$", fontsize=16, color="#7a7a7a", zorder=4)

fig.savefig("out.png", dpi=100)
